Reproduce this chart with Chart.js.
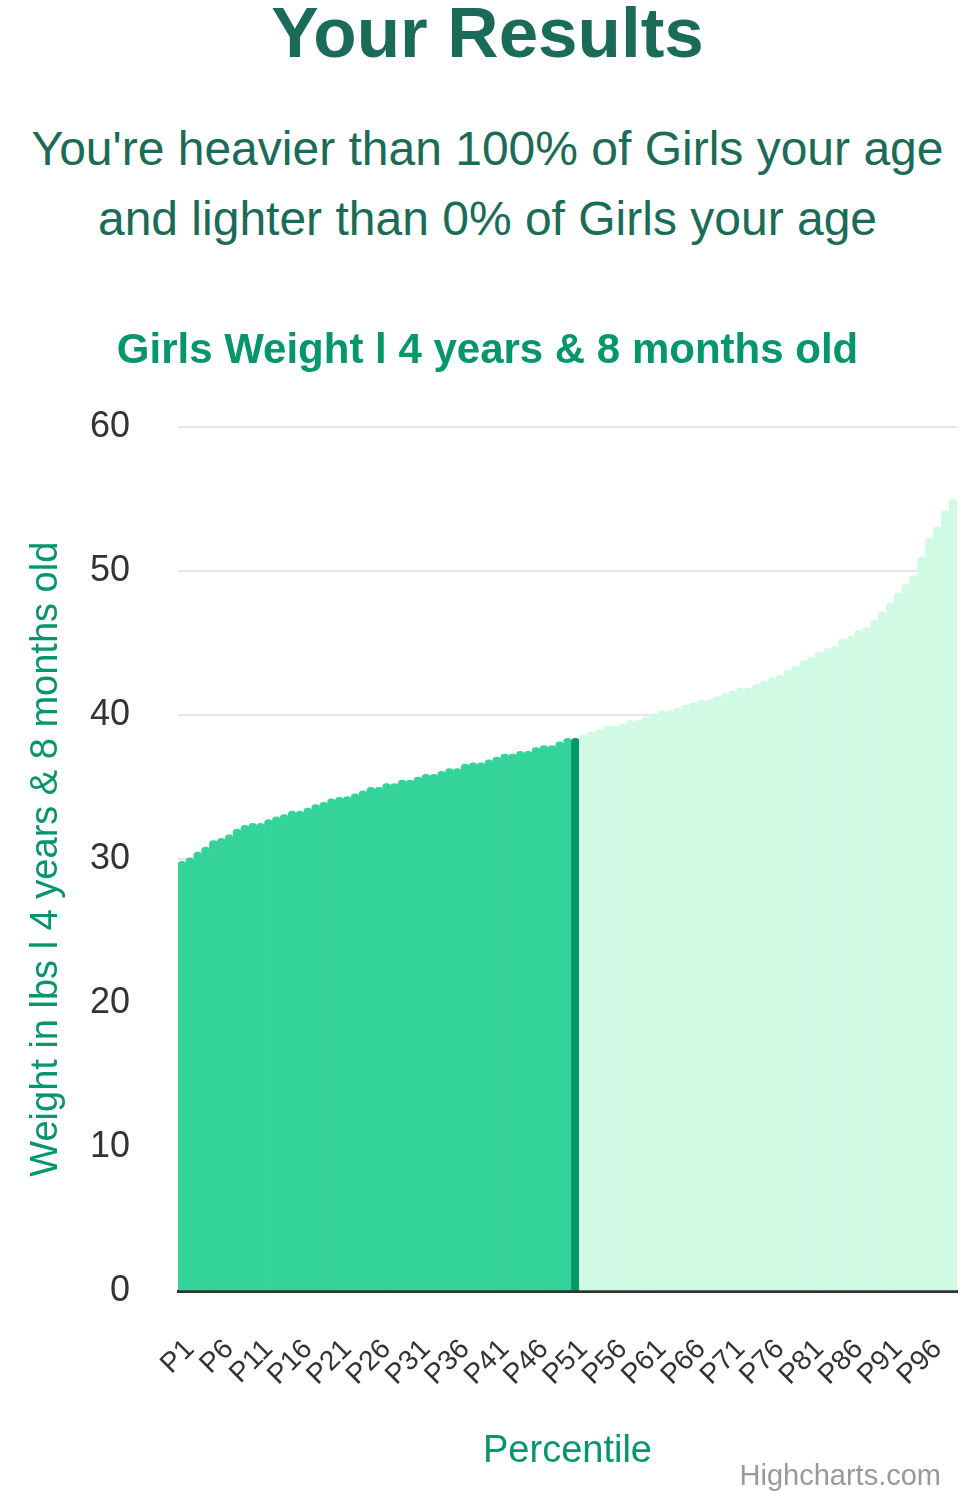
<!DOCTYPE html>
<html>
<head>
<meta charset="utf-8">
<script src="https://cdn.jsdelivr.net/npm/chart.js@4"></script>
<style>
  body { margin: 0; background: #fff; font-family: "Liberation Sans", Arial, sans-serif; }
  .page { position: relative; width: 975px; height: 1500px; }
  h1 { margin: 0; position: absolute; top: -7px; left: 0; width: 975px; text-align: center;
       font-size: 71px; font-weight: bold; color: #1a6b57; line-height: 80px; }
  .summary { position: absolute; top: 114px; left: 0; width: 975px; text-align: center;
       font-size: 48px; line-height: 70px; color: #1a6b57; margin: 0; }
  .chartBox { position: absolute; top: 290px; left: 0; width: 975px; height: 1210px; }
  .credits { position: absolute; right: 34px; top: 1459px; font-size: 29px; color: #999; }
</style>
</head>
<body>
<div class="page">
  <h1>Your Results</h1>
  <p class="summary">You're heavier than 100% of Girls your age<br>and lighter than 0% of Girls your age</p>
  <div class="chartBox"><canvas id="percentileChart"></canvas></div>
  <div class="credits">Highcharts.com</div>
</div>
<script>
// percentile categories P1 .. P99
const percentileLabels = Array.from({ length: 99 }, (_, i) => 'P' + (i + 1));

// weight in lbs for each percentile
const weightValues = [
    29.85, 30.1, 30.5, 30.85, 31.3, 31.45, 31.7, 32.1, 32.35, 32.5,
    32.5, 32.75, 32.95, 33.1, 33.35, 33.35, 33.55, 33.8, 33.95, 34.2,
    34.3, 34.35, 34.55, 34.75, 35.0, 35.0, 35.25, 35.25, 35.5, 35.5,
    35.7, 35.9, 35.9, 36.1, 36.3, 36.3, 36.6, 36.7, 36.7, 36.9,
    37.1, 37.3, 37.3, 37.5, 37.5, 37.75, 37.9, 37.9, 38.15, 38.4,
    38.4, 38.6, 38.85, 39.0, 39.25, 39.25, 39.4, 39.65, 39.65, 39.9,
    40.1, 40.3, 40.3, 40.5, 40.7, 40.9, 41.05, 41.05, 41.3, 41.5,
    41.7, 41.9, 41.9, 42.15, 42.4, 42.6, 42.8, 43.15, 43.4, 43.8,
    44.0, 44.4, 44.65, 44.8, 45.3, 45.5, 45.9, 46.1, 46.6, 47.2,
    47.8, 48.5, 49.1, 49.7, 51.0, 52.3, 53.1, 54.2, 55.0
];

// y axis ticks
const yTicks = [0, 10, 20, 30, 40, 50, 60];

// the user's own percentile (P51)
const userIndex = 50;

// Farben: below user / user / above user
const barColors = weightValues.map((v, i) =>
    i < userIndex ? '#34d399' : (i === userIndex ? '#059669' : '#d1fae5'));

const green = '#059669';

new Chart(document.getElementById('percentileChart'), {
    type: 'bar',
    data: {
        labels: percentileLabels,
        datasets: [{
            label: 'Weight',
            data: weightValues,
            backgroundColor: barColors,
            borderWidth: 0,
            borderRadius: { topLeft: 4, topRight: 4 },
            borderSkipped: 'bottom',
            barPercentage: 1.0,
            categoryPercentage: 1.0
        }]
    },
    options: {
        responsive: true,
        maintainAspectRatio: false,
        animation: false,
        layout: {
            padding: { left: 0, right: 0, top: 0, bottom: 0 }
        },
        plugins: {
            legend: { display: false },
            tooltip: { enabled: false },
            title: {
                display: true,
                text: 'Girls Weight l 4 years & 8 months old',
                color: green,
                font: { family: 'Liberation Sans', size: 42, weight: 'bold' },
                padding: { top: 36, bottom: 51 }
            }
        },
        scales: {
            x: {
                z: 1,
                afterFit: function (axis) {
                    axis.height = 209;
                    axis.paddingRight = 18;
                },
                grid: { display: false, drawTicks: false },
                border: { display: true, color: '#333333', width: 3 },
                ticks: {
                    autoSkip: false,
                    maxRotation: 45,
                    minRotation: 45,
                    padding: 42,
                    labelOffset: 8,
                    color: '#333333',
                    font: { family: 'Liberation Sans', size: 28 },
                    callback: function (value, index) {
                        return index % 5 === 0 ? this.getLabelForValue(value) : '';
                    }
                },
                title: {
                    display: true,
                    text: 'Percentile',
                    color: green,
                    font: { family: 'Liberation Sans', size: 38 },
                    padding: { top: 0, bottom: 26 }
                }
            },
            y: {
                min: 0,
                max: 60,
                afterBuildTicks: function (axis) {
                    axis.ticks = yTicks.map(v => ({ value: v }));
                },
                afterFit: function (axis) {
                    axis.width = 178;
                },
                grid: { color: '#e6e6e6', lineWidth: 2, drawTicks: false },
                border: { display: false },
                ticks: {
                    padding: 48,
                    color: '#333333',
                    font: { family: 'Liberation Sans', size: 36 }
                },
                title: {
                    display: true,
                    text: 'Weight in lbs l 4 years & 8 months old',
                    color: green,
                    font: { family: 'Liberation Sans', size: 38 },
                    padding: { top: 24, bottom: 0 }
                }
            }
        }
    }
});
</script>
</body>
</html>
